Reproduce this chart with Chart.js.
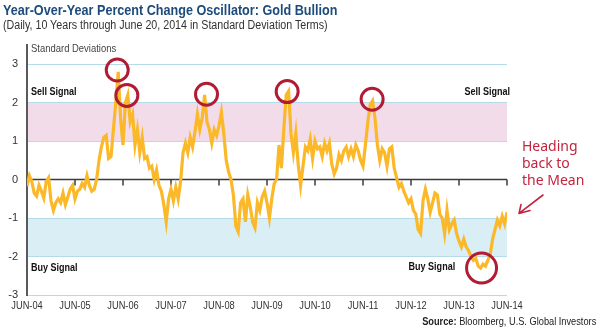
<!DOCTYPE html>
<html>
<head>
<meta charset="utf-8">
<script src="https://cdn.jsdelivr.net/npm/chart.js@4.4.1/dist/chart.umd.min.js"></script>
<style>
  body { margin: 0; background: #fff; }
  #wrap { position: relative; width: 600px; height: 330px; overflow: hidden; font-family: "Liberation Sans", Arial, sans-serif; }
  #chart { position: absolute; left: 0; top: 0; }
  #title { position: absolute; left: 3px; top: 2px; font-size: 14.5px; font-weight: bold; color: #1d4b7b; white-space: nowrap; transform: scaleX(0.87); transform-origin: left top; }
  #subtitle { position: absolute; left: 3px; top: 18px; font-size: 12.5px; color: #333; white-space: nowrap; transform: scaleX(0.855); transform-origin: left top; }
  #source { position: absolute; right: 4px; top: 315px; font-size: 11px; color: #222; white-space: nowrap; transform: scaleX(0.84); transform-origin: right top; }
  #note { position: absolute; left: 522px; top: 137px; font-family: "Noto Sans", sans-serif; font-size: 14px; line-height: 17px; color: #c2243e; }
</style>
</head>
<body>
<div id="wrap">
  <canvas id="chart" width="600" height="330"></canvas>
  <div id="title">Year-Over-Year Percent Change Oscillator: Gold Bullion</div>
  <div id="subtitle">(Daily, 10 Years through June 20, 2014 in Standard Deviation Terms)</div>
  <div id="source"><b>Source:</b> Bloomberg, U.S. Global Investors</div>
  <div id="note">Heading<br>back to<br>the Mean</div>
</div>
<script>
// x axis labels, one per year (June of each year)
const tickLabels = ["JUN-04", "JUN-05", "JUN-06", "JUN-07", "JUN-08", "JUN-09",
  "JUN-10", "JUN-11", "JUN-12", "JUN-13", "JUN-14"];

// oscillator, sampled every 0.05 year from Jun-04 to Jun-14 (std deviations)
const stepYears = 0.05;
const oscillator = [
  -0.17, 0.1, -0.05, -0.35, -0.43, -0.15, -0.3, -0.48, -0.05, 0.05,
  -0.55, -0.8, -0.6, -0.5, -0.6, -0.35, -0.65, -0.45, -0.25, -0.15,
  -0.5, -0.3, -0.25, -0.1, -0.2, 0.1, -0.15, -0.3, -0.25, 0.0,
  0.5, 0.85, 1.1, 1.15, 0.55, 0.6, 1.3, 2.0, 2.8, 1.6,
  0.9, 2.0, 2.2, 1.5, 1.7, 0.9, 1.3, 0.7, 1.1, 0.55,
  0.6, 0.3, 0.35, 0.0, 0.25, -0.15, -0.3, -0.65, -1.1, -0.5,
  -0.25, -0.55, -0.2, -0.5, -0.05, 0.7, 0.95, 0.7, 1.1, 0.85,
  1.25, 1.7, 1.3, 1.6, 2.2, 1.5, 1.3, 0.95, 1.3, 1.15,
  1.4, 1.75, 1.2, 0.5, 0.2, 0.0, -0.4, -1.2, -1.35, -0.6,
  -0.5, -1.1, -0.4, -0.7, -1.1, -1.25, -0.6, -0.8, -0.45, -0.3,
  -0.6, -1.0, -0.5, -0.1, 0.0, 0.9, 0.3, 1.3, 2.2, 2.3,
  1.2, 0.7, 1.2, 0.4, -0.15, 0.35, 0.85, 0.75, 1.05, 0.55,
  1.0, 0.8, 0.85, 0.6, 0.95, 0.75, 0.95, 0.4, 0.15, 0.3,
  0.65, 0.5, 0.75, 0.85, 0.6, 0.8, 0.6, 0.9, 0.75, 0.5,
  0.35, 0.9, 1.5, 1.95, 2.05, 1.6, 0.9, 0.5, 0.8, 0.7,
  0.35, 0.8, 0.85, 0.3, 0.05, -0.2, -0.1, -0.3, -0.45, -0.6,
  -0.5, -0.8, -0.9, -1.3, -1.4, -0.55, -0.25, -0.5, -0.85, -0.6,
  -0.35, -0.4, -0.9, -1.0, -1.4, -0.8, -1.3, -1.15, -1.05, -1.4,
  -1.6, -1.75, -1.55, -1.75, -1.85, -2.0, -2.1, -2.05, -2.25, -2.3,
  -2.2, -2.25, -2.1, -1.95, -1.55, -1.3, -1.05, -1.2, -0.95, -1.15,
  -0.85
];

// circled extremes (years since Jun-04, std deviations)
const circleYears = [1.88, 2.08, 3.74, 5.42, 7.19, 9.47];
const circleValues = [2.85, 2.19, 2.22, 2.29, 2.09, -2.3];

// signal bands
const sellBand = [1, 2];
const buyBand = [-2, -1];

const gold = "#fbb829";
const red = "#b11c34";
const font = "'Liberation Sans', Arial, sans-serif";

const linePoints = oscillator.map((v, i) => ({ x: i * stepYears, y: v }));
const circlePoints = circleYears.map((x, i) => ({ x: x, y: circleValues[i] }));

// squeezed text, the original uses a narrow face
function narrowText(ctx, text, x, y, align, squeeze) {
  ctx.save();
  ctx.translate(x, y);
  ctx.scale(squeeze, 1);
  ctx.textAlign = align;
  ctx.fillText(text, 0, 0);
  ctx.restore();
}

// pink / blue bands under the grid
const bandsPlugin = {
  id: "bands",
  beforeDraw(chart) {
    const { ctx, chartArea, scales } = chart;
    const y = scales.y;
    ctx.save();
    ctx.fillStyle = "#f2dce9";
    ctx.fillRect(chartArea.left, y.getPixelForValue(sellBand[1]), chartArea.width,
      y.getPixelForValue(sellBand[0]) - y.getPixelForValue(sellBand[1]));
    ctx.fillStyle = "#d9eef5";
    ctx.fillRect(chartArea.left, y.getPixelForValue(buyBand[1]), chartArea.width,
      y.getPixelForValue(buyBand[0]) - y.getPixelForValue(buyBand[1]));
    ctx.restore();
  }
};

// dark zero line with year ticks hanging below it
const zeroLinePlugin = {
  id: "zeroLine",
  beforeDatasetsDraw(chart) {
    const { ctx, chartArea, scales } = chart;
    const y0 = scales.y.getPixelForValue(0);
    ctx.save();
    ctx.strokeStyle = "#3b3b3b";
    ctx.lineWidth = 1.5;
    ctx.beginPath();
    ctx.moveTo(chartArea.left, y0);
    ctx.lineTo(chartArea.right, y0);
    for (let i = 1; i < tickLabels.length; i++) {
      const x = scales.x.getPixelForValue(i);
      ctx.moveTo(x, y0);
      ctx.lineTo(x, y0 + 6);
    }
    ctx.stroke();
    ctx.restore();
  }
};

// in-chart text, x tick labels and the arrow of the note
const labelsPlugin = {
  id: "labels",
  afterDraw(chart) {
    const { ctx, chartArea, scales } = chart;
    const x = scales.x, y = scales.y;
    ctx.save();
    ctx.textBaseline = "middle";

    ctx.fillStyle = "#333";
    ctx.font = "11px " + font;
    tickLabels.forEach((lab, i) => {
      narrowText(ctx, lab, x.getPixelForValue(i), chartArea.bottom + 11, "center", 0.84);
    });

    ctx.fillStyle = "#444";
    narrowText(ctx, "Standard Deviations", chartArea.left + 4, chartArea.top + 4, "left", 0.86);

    ctx.fillStyle = "#111";
    ctx.font = "bold 11px " + font;
    narrowText(ctx, "Sell Signal", chartArea.left + 4, y.getPixelForValue(2.28), "left", 0.82);
    narrowText(ctx, "Buy Signal", chartArea.left + 4, y.getPixelForValue(-2.3), "left", 0.82);
    narrowText(ctx, "Sell Signal", chartArea.right + 3, y.getPixelForValue(2.28), "right", 0.82);
    narrowText(ctx, "Buy Signal", x.getPixelForValue(8.92), y.getPixelForValue(-2.28), "right", 0.82);

    // arrow pointing at the last reading
    const ax = chartArea.right + 36, ay = y.getPixelForValue(-0.4);
    const bx = chartArea.right + 12, by = y.getPixelForValue(-0.88);
    ctx.strokeStyle = "#c2243e";
    ctx.lineWidth = 1.6;
    ctx.lineCap = "round";
    ctx.beginPath();
    ctx.moveTo(ax, ay);
    ctx.lineTo(bx, by);
    ctx.moveTo(bx, by);
    ctx.lineTo(bx + 2, by - 9);
    ctx.moveTo(bx, by);
    ctx.lineTo(bx + 11, by - 3);
    ctx.stroke();
    ctx.restore();
  }
};

new Chart(document.getElementById("chart"), {
  type: "line",
  data: {
    datasets: [
      {
        type: "scatter",
        data: circlePoints,
        pointRadius: [11, 11, 11, 11, 11, 15],
        pointBackgroundColor: "rgba(0,0,0,0)",
        pointBorderColor: red,
        pointBorderWidth: 3,
        pointHoverRadius: 0,
        order: 0
      },
      {
        data: linePoints,
        borderColor: gold,
        borderWidth: 3.2,
        pointRadius: 0,
        tension: 0,
        order: 1
      }
    ]
  },
  options: {
    responsive: false,
    animation: false,
    devicePixelRatio: 1,
    layout: { padding: { top: 45, right: 93, left: 0, bottom: 0 } },
    plugins: { legend: { display: false }, tooltip: { enabled: false } },
    scales: {
      x: {
        type: "linear",
        min: 0,
        max: 10,
        afterFit: (scale) => { scale.height = 35; },
        grid: { display: false, drawTicks: false },
        border: { display: false },
        ticks: { stepSize: 1, display: false }
      },
      y: {
        min: -3,
        max: 3.5,
        afterFit: (scale) => { scale.width = 27; },
        afterBuildTicks: (scale) => {
          scale.ticks = scale.ticks.filter((t) => Number.isInteger(t.value));
        },
        grid: {
          drawTicks: false,
          lineWidth: 1,
          color: (c) => (c.tick && c.tick.value === 0 ? "rgba(0,0,0,0)" : "#b4dbe7")
        },
        border: { display: true, color: "#5a5a5a", width: 2 },
        ticks: {
          stepSize: 1,
          padding: 9,
          color: "#333",
          font: { family: font, size: 11 }
        }
      }
    }
  },
  plugins: [bandsPlugin, zeroLinePlugin, labelsPlugin]
});
</script>
</body>
</html>
